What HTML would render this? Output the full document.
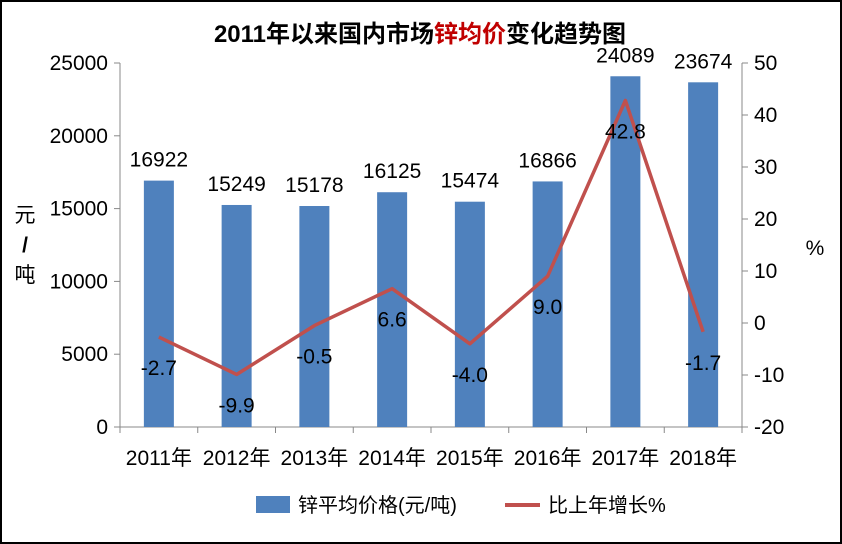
<!DOCTYPE html>
<html><head><meta charset="utf-8"><style>
body{margin:0;background:#fff}
svg{display:block;font-family:"Liberation Sans","Noto Sans CJK SC",sans-serif}
</style></head><body>
<svg id="chart" width="842" height="544" viewBox="0 0 842 544">
<rect x="1" y="1" width="840" height="542" fill="#fff" stroke="#000" stroke-width="2"/>
<text x="420" y="42" text-anchor="middle" font-size="24" font-weight="bold">2011年以来国内市场<tspan fill="#c00000">锌均价</tspan>变化趋势图</text>
<g id="axes"></g><g id="bars"></g><g id="line"></g><g id="labels"></g>
<text x="25" y="222" text-anchor="middle" font-size="21">元</text>
<text x="25" y="252" text-anchor="middle" font-size="21" font-weight="bold">/</text>
<text x="25" y="282" text-anchor="middle" font-size="21">吨</text>
<text x="815" y="255" text-anchor="middle" font-size="21">%</text>
<g>
<rect x="256" y="496" width="34" height="17" fill="#4f81bd"/>
<text x="298" y="512" font-size="20">锌平均价格(元/吨)</text>
<line x1="505" y1="505" x2="540" y2="505" stroke="#c0504d" stroke-width="4"/>
<text x="548" y="512" font-size="20">比上年增长%</text>
</g>
</svg>
<script>
const categories=["2011年","2012年","2013年","2014年","2015年","2016年","2017年","2018年"];
const prices=[16922,15249,15178,16125,15474,16866,24089,23674];
const growth=[-2.7,-9.9,-0.5,6.6,-4.0,9.0,42.8,-1.7];
const leftTicks=[0,5000,10000,15000,20000,25000];
const rightTicks=[-20,-10,0,10,20,30,40,50];
const NS="http://www.w3.org/2000/svg";
const L=120,R=742,T=63,B=427;
const band=(R-L)/categories.length;
const xC=i=>L+band*(i+0.5);
const yL=v=>B-(v/25000)*(B-T);
const yR=v=>B-((v+20)/70)*(B-T);
function mk(tag,attrs,parent,text){const e=document.createElementNS(NS,tag);for(const k in attrs)e.setAttribute(k,attrs[k]);if(text!==undefined)e.textContent=text;document.getElementById(parent).appendChild(e);return e;}
let e=mk("line",{x1:L,y1:T,x2:L,y2:B,stroke:"#888","stroke-width":1},"axes");


e=mk("line",{x1:R,y1:T,x2:R,y2:B,stroke:"#888","stroke-width":1},"axes");


e=mk("line",{x1:L,y1:B,x2:R,y2:B,stroke:"#888","stroke-width":1},"axes");


leftTicks.forEach(v=>{
 mk("line",{x1:L-6,y1:yL(v),x2:L,y2:yL(v),stroke:"#888"},"axes");
 e=mk("text",{x:L-12,y:yL(v)+7,"text-anchor":"end","font-size":21},"axes",v);
 
 
});
rightTicks.forEach(v=>{
 mk("line",{x1:R,y1:yR(v),x2:R+6,y2:yR(v),stroke:"#888"},"axes");
 e=mk("text",{x:R+12,y:yR(v)+7,"text-anchor":"start","font-size":21},"axes",v);
 
 
});
for(let i=0;i<=categories.length;i++){mk("line",{x1:L+band*i,y1:B,x2:L+band*i,y2:B+6,stroke:"#888"},"axes");}
categories.forEach((c,i)=>{
 e=mk("text",{x:xC(i),y:B+38,"text-anchor":"middle","font-size":21},"axes",c);
 
 
});
prices.forEach((v,i)=>{
 e=mk("rect",{x:xC(i)-15,y:yL(v),width:30,height:B-yL(v),fill:"#4f81bd"},"bars");
 
 
 e=mk("text",{x:xC(i),y:yL(v)-14,"text-anchor":"middle","font-size":21},"labels",v);
 
 
});
e=mk("polyline",{points:growth.map((v,i)=>xC(i)+","+yR(v)).join(" "),fill:"none",stroke:"#c0504d","stroke-width":3.5,"stroke-linejoin":"round"},"line");


growth.forEach((v,i)=>{
 e=mk("text",{x:xC(i),y:yR(v)+38,"text-anchor":"middle","font-size":21},"labels",v.toFixed(1));
 
 
});
</script>
</body></html>
